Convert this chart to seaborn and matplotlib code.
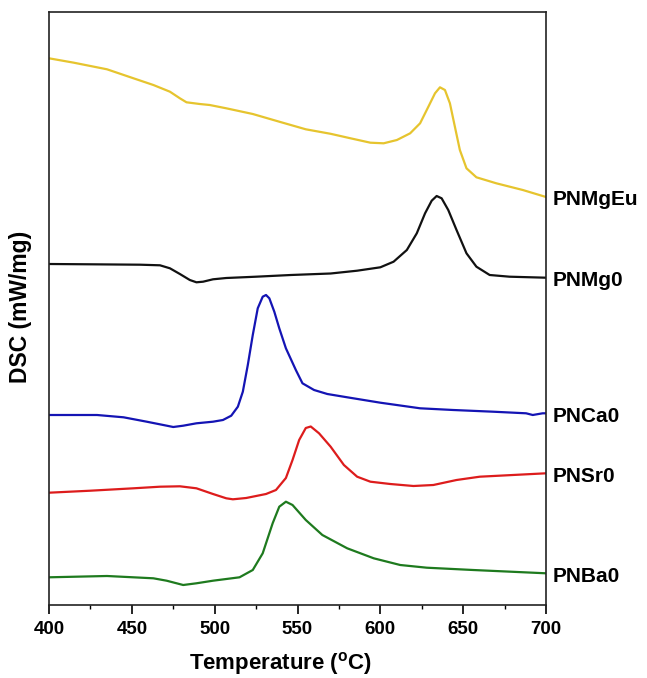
import numpy as np
import pandas as pd
import matplotlib
matplotlib.use("Agg")
import matplotlib.pyplot as plt
import seaborn as sns

# DSC traces (vertically offset for clarity), temperature in °C
t_mgeu = [400, 415, 435, 451, 463, 473, 479, 483, 491, 497, 507, 523, 539, 555, 570, 582, 594,
          602, 610, 618, 624, 629, 633, 636, 639, 642, 645, 648, 652, 658, 670, 686, 700]
dsc_mgeu = [5.467, 5.423, 5.357, 5.267, 5.2, 5.133, 5.067, 5.027, 5.01, 5.0, 4.967, 4.91, 4.833,
            4.757, 4.712, 4.667, 4.623, 4.617, 4.65, 4.717, 4.817, 4.983, 5.117, 5.177, 5.15,
            5.017, 4.783, 4.55, 4.367, 4.277, 4.217, 4.15, 4.08]

t_mg0 = [400, 425, 455, 467, 473, 479, 485, 489, 493, 499, 507, 525, 546, 570, 586, 600, 608,
         616, 622, 627, 631, 634, 637, 641, 646, 652, 658, 666, 678, 700]
dsc_mg0 = [3.41, 3.407, 3.403, 3.397, 3.367, 3.31, 3.25, 3.227, 3.233, 3.257, 3.27, 3.283, 3.3,
           3.315, 3.343, 3.377, 3.433, 3.55, 3.717, 3.917, 4.043, 4.09, 4.067, 3.95, 3.75,
           3.517, 3.383, 3.3, 3.283, 3.273]

t_ca0 = [400, 429, 445, 459, 469, 475, 481, 489, 499, 505, 510, 514, 517, 520, 523, 526, 529,
         531, 533, 536, 539, 543, 549, 553, 560, 568, 580, 600, 624, 644, 668, 688, 692, 698, 700]
dsc_ca0 = [1.9, 1.9, 1.877, 1.833, 1.8, 1.78, 1.793, 1.817, 1.833, 1.85, 1.893, 1.983, 2.133,
           2.4, 2.7, 2.967, 3.083, 3.1, 3.067, 2.933, 2.767, 2.567, 2.35, 2.217, 2.15, 2.11,
           2.077, 2.023, 1.967, 1.95, 1.933, 1.917, 1.9, 1.917, 1.917]

t_sr0 = [400, 425, 451, 467, 479, 489, 499, 507, 511, 519, 531, 537, 543, 547, 551, 555, 558,
         563, 570, 578, 586, 594, 606, 620, 632, 646, 660, 680, 700]
dsc_sr0 = [1.123, 1.143, 1.167, 1.183, 1.187, 1.167, 1.11, 1.067, 1.057, 1.07, 1.11, 1.15, 1.27,
           1.45, 1.65, 1.77, 1.785, 1.717, 1.583, 1.4, 1.283, 1.233, 1.21, 1.19, 1.2, 1.25,
           1.283, 1.3, 1.317]

t_ba0 = [400, 435, 463, 471, 481, 489, 499, 515, 523, 529, 535, 539, 543, 547, 555, 565, 580,
         596, 612, 628, 656, 700]
dsc_ba0 = [0.277, 0.29, 0.267, 0.243, 0.2, 0.217, 0.243, 0.277, 0.35, 0.517, 0.817, 0.983,
           1.033, 1.0, 0.85, 0.7, 0.567, 0.467, 0.4, 0.373, 0.35, 0.317]

samples = ["PNMgEu", "PNMg0", "PNCa0", "PNSr0", "PNBa0"]
colors = ["#E6C42E", "#111111", "#1414B4", "#DD1C1C", "#1E7A1E"]
x_ticks = [400, 450, 500, 550, 600, 650, 700]

series = {
    "PNMgEu": (t_mgeu, dsc_mgeu),
    "PNMg0": (t_mg0, dsc_mg0),
    "PNCa0": (t_ca0, dsc_ca0),
    "PNSr0": (t_sr0, dsc_sr0),
    "PNBa0": (t_ba0, dsc_ba0),
}

frames = []
for name in samples:
    t, d = series[name]
    frames.append(pd.DataFrame({"T": t, "DSC": d, "sample": name}))
df = pd.concat(frames, ignore_index=True)

sns.set_style("ticks")
plt.rcParams["font.family"] = ["Liberation Sans", "DejaVu Sans"]
plt.rcParams["mathtext.fontset"] = "custom"
plt.rcParams["mathtext.bf"] = "Liberation Sans:bold"
plt.rcParams["mathtext.rm"] = "Liberation Sans"
plt.rcParams["text.color"] = "black"
plt.rcParams["axes.labelcolor"] = "black"
plt.rcParams["xtick.color"] = "black"

fig = plt.figure(figsize=(6.47, 6.78), dpi=100)
ax = fig.add_axes([49 / 647, 1 - 605 / 678, 497 / 647, 593 / 678])

sns.lineplot(data=df, x="T", y="DSC", hue="sample", hue_order=samples,
             palette=colors, linewidth=1.6, legend=False, ax=ax, sort=False,
             estimator=None)

ax.set_xlim(400, 700)
ax.set_ylim(0, 5.93)
ax.set_xticks(x_ticks)
ax.set_xticks(np.arange(425, 700, 50), minor=True)
ax.set_yticks([])
ax.tick_params(axis="x", which="major", direction="out", length=6.5, width=1.2,
               labelsize=13.5, pad=5)
ax.tick_params(axis="x", which="minor", direction="out", length=3, width=1.0)
for lab in ax.get_xticklabels():
    lab.set_fontweight("bold")
for sp in ax.spines.values():
    sp.set_visible(True)
    sp.set_linewidth(1.2)
    sp.set_color("#222222")

ax.set_xlabel(r"Temperature ($\mathbf{^o}$C)", fontsize=16, fontweight="bold")
ax.xaxis.set_label_coords(0.465, -0.076)
ax.set_ylabel("DSC (mW/mg)", fontsize=16.5, fontweight="bold")
ax.yaxis.set_label_coords(-0.035, 0.502)

for name in samples:
    t, d = series[name]
    ax.annotate(name, xy=(t[-1], d[-1]), xytext=(5, -2), textcoords="offset points",
                ha="left", va="center", fontsize=15, fontweight="bold",
                annotation_clip=False)

fig.savefig("out.png", dpi=100)
